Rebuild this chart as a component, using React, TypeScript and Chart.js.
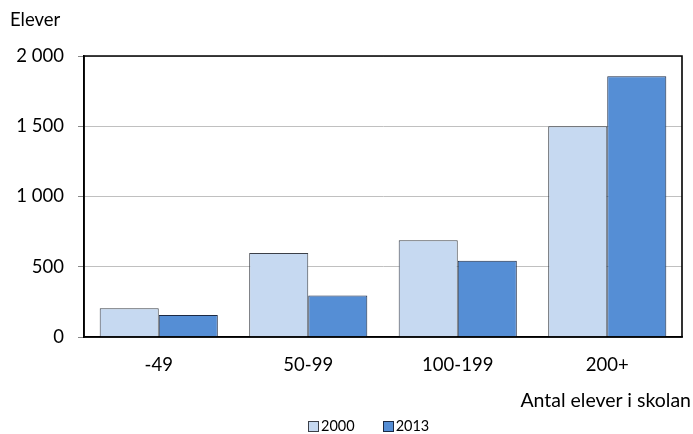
import React, { useEffect, useRef } from "react";
import { Chart, registerables } from "chart.js";

Chart.register(...registerables);

const categories = ["-49", "50-99", "100-199", "200+"];
const series2000 = [205, 597, 688, 1500];
const series2013 = [157, 296, 543, 1855];
const seriesLabels = ["2000", "2013"];
const yTicks = [0, 500, 1000, 1500, 2000];
const yTitle = "Elever";
const xTitle = "Antal elever i skolan";

const fills = ["#c6d9f1", "#558ed5"];
const borders = ["#3c4048", "#1c2a44"];
const FONT = "Lato, 'Noto Sans', sans-serif";
const FS = 18.5;

const fmt = (v: number) => {
  const s = String(Math.round(v));
  return s.replace(/\B(?=(\d{3})+(?!\d))/g, " ");
};

const frame = {
  id: "frame",
  afterDraw(chart: any) {
    const { ctx, chartArea } = chart;
    ctx.save();
    ctx.strokeStyle = "#000";
    ctx.lineWidth = 1.6;
    ctx.beginPath();
    ctx.moveTo(chartArea.left, chartArea.bottom);
    ctx.lineTo(chartArea.left, chartArea.top);
    ctx.lineTo(chartArea.right, chartArea.top);
    ctx.lineTo(chartArea.right, chartArea.bottom);
    ctx.lineTo(chartArea.left, chartArea.bottom);
    ctx.stroke();
    ctx.restore();
  },
};

export default function App() {
  const ref = useRef<HTMLCanvasElement>(null);

  useEffect(() => {
    if (!ref.current) return;
    const chart = new Chart(ref.current, {
      type: "bar",
      data: {
        labels: categories,
        datasets: [
          {
            label: seriesLabels[0],
            data: series2000,
            backgroundColor: fills[0],
            borderColor: borders[0],
            borderWidth: 1,
            borderSkipped: "bottom",
          },
          {
            label: seriesLabels[1],
            data: series2013,
            backgroundColor: fills[1],
            borderColor: borders[1],
            borderWidth: 1,
            borderSkipped: "bottom",
          },
        ],
      },
      options: {
        animation: false,
        responsive: false,
        devicePixelRatio: 1,
        layout: { padding: { left: 0, top: 56, right: 11, bottom: 0 } },
        datasets: { bar: { barPercentage: 1, categoryPercentage: 0.79 } } as any,
        plugins: {
          legend: { display: false },
          tooltip: { enabled: false },
          title: { display: false },
        },
        scales: {
          x: {
            grid: { display: false },
            border: { display: true, color: "#000", width: 1.6 },
            ticks: { color: "#000", font: { family: FONT, size: FS }, padding: 9 },
            afterFit: (s: any) => {
              s.height = 434 - 337;
            },
          },
          y: {
            min: 0,
            max: 2000,
            afterBuildTicks: (s: any) => {
              s.ticks = yTicks.map((v) => ({ value: v }));
            },
            grid: {
              color: "#c0c0c0",
              lineWidth: 1,
              tickLength: 6,
              tickColor: "#888",
            },
            border: { display: true, color: "#000", width: 1.6 },
            ticks: {
              color: "#000",
              font: { family: FONT, size: FS },
              padding: 14,
              callback: (v: any) => fmt(Number(v)),
            },
            afterFit: (s: any) => {
              s.width = 84;
            },
          },
        },
      },
      plugins: [frame],
    });
    return () => chart.destroy();
  }, []);

  const textStyle: React.CSSProperties = {
    position: "absolute",
    fontFamily: FONT,
    color: "#000",
    whiteSpace: "nowrap",
    lineHeight: 1,
  };

  return (
    <div style={{ position: "absolute", left: 0, top: 0, width: 693, height: 434, background: "#fff" }}>
      <canvas ref={ref} width={693} height={434} style={{ position: "absolute", left: 0, top: 0 }} />
      <div style={{ ...textStyle, left: 10, top: 10, fontSize: FS }}>{yTitle}</div>
      <div style={{ ...textStyle, right: 2, top: 390, fontSize: 19.5 }}>{xTitle}</div>
      <div style={{ position: "absolute", left: 308, top: 419, display: "flex", alignItems: "center", fontFamily: FONT, fontSize: 14.5, lineHeight: 1 }}>
        {seriesLabels.map((l, i) => (
          <div key={l} style={{ display: "flex", alignItems: "center", marginRight: i === 0 ? 28 : 0 }}>
            <span
              style={{
                display: "inline-block",
                width: 9,
                height: 9,
                background: fills[i],
                border: `1px solid ${borders[i]}`,
                marginRight: 2,
              }}
            />
            <span>{l}</span>
          </div>
        ))}
      </div>
    </div>
  );
}
